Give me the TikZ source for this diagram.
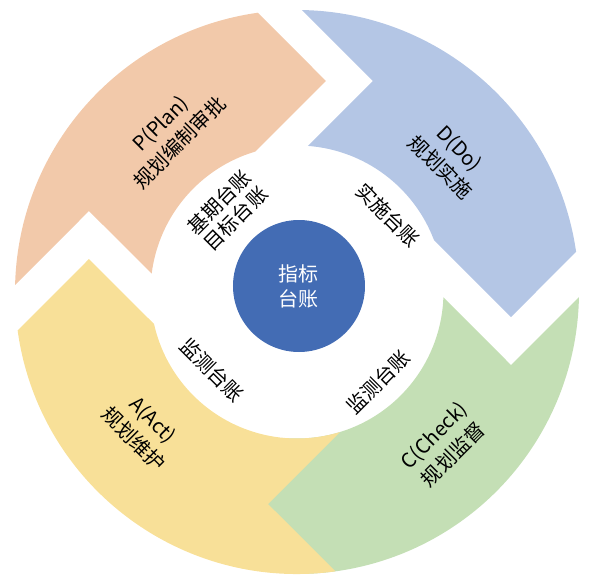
\documentclass[tikz,border=0pt]{standalone}
\usepackage{fontspec}
\setmainfont{Noto Sans CJK SC}
\definecolor{planc}{RGB}{242,201,170}
\definecolor{doc}{RGB}{180,198,229}
\definecolor{checkc}{RGB}{196,223,181}
\definecolor{actc}{RGB}{248,224,152}
\definecolor{hubc}{RGB}{67,108,180}
\begin{document}
\begin{tikzpicture}[x=1pt,y=1pt,
    every node/.style={inner sep=0pt,outer sep=0pt,align=center,
      font=\fontsize{20}{27}\selectfont},
    ledger/.style={font=\fontsize{20}{23}\selectfont}]
  \useasboundingbox (-297,-295) rectangle (298,292);
  % four arrows of the cycle
  \fill[planc] (178.56:282) arc[start angle=178.56,end angle=98,radius=282]
    -- (29,211) -- (106.5:146.5) arc[start angle=106.5,end angle=172.8,radius=146.5]
    -- (-208,81) -- cycle;
  \fill[doc] (89:282) arc[start angle=89,end angle=8.18,radius=282]
    -- (214,-25) -- (20.8:146.5) arc[start angle=20.8,end angle=85.7,radius=146.5]
    -- (76,211) -- cycle;
  \fill[checkc] (-1.03:282) arc[start angle=-1.03,end angle=-91.44,radius=282]
    -- (-77,-212) -- (-94.34:146.5) arc[start angle=-94.34,end angle=-2.1,radius=146.5]
    -- (214,-73) -- cycle;
  \fill[actc] (-82.17:282) arc[start angle=-82.17,end angle=-172.17,radius=282]
    -- (-208,33) -- (-167.36:146.5) arc[start angle=-167.36,end angle=-72.95,radius=146.5]
    -- (-29,-212) -- cycle;
  \node[rotate=45] (plan) at (-127,159) {P(Plan)\\规划编制审批};
  \node[rotate=-45] (do) at (153,134) {D(Do)\\规划实施};
  \node[rotate=45] (check) at (146.5,-153) {C(Check)\\规划监督};
  \node[rotate=-45] (act) at (-153.5,-137.5) {A(Act)\\规划维护};
  \node[ledger,rotate=45] (base) at (-69.5,81.5) {基期台账\\目标台账};
  \node[ledger,rotate=-45] (impl) at (91,77) {实施台账};
  \node[ledger,rotate=45] (monr) at (81,-90) {监测台账};
  \node[ledger,rotate=-45] (monl) at (-85,-78) {监测台账};
  \node[circle,fill=hubc,minimum size=132pt,text=white,
    font=\fontsize{20}{25}\selectfont] (hub) at (2,6) {指标\\台账};
\end{tikzpicture}
\end{document}
